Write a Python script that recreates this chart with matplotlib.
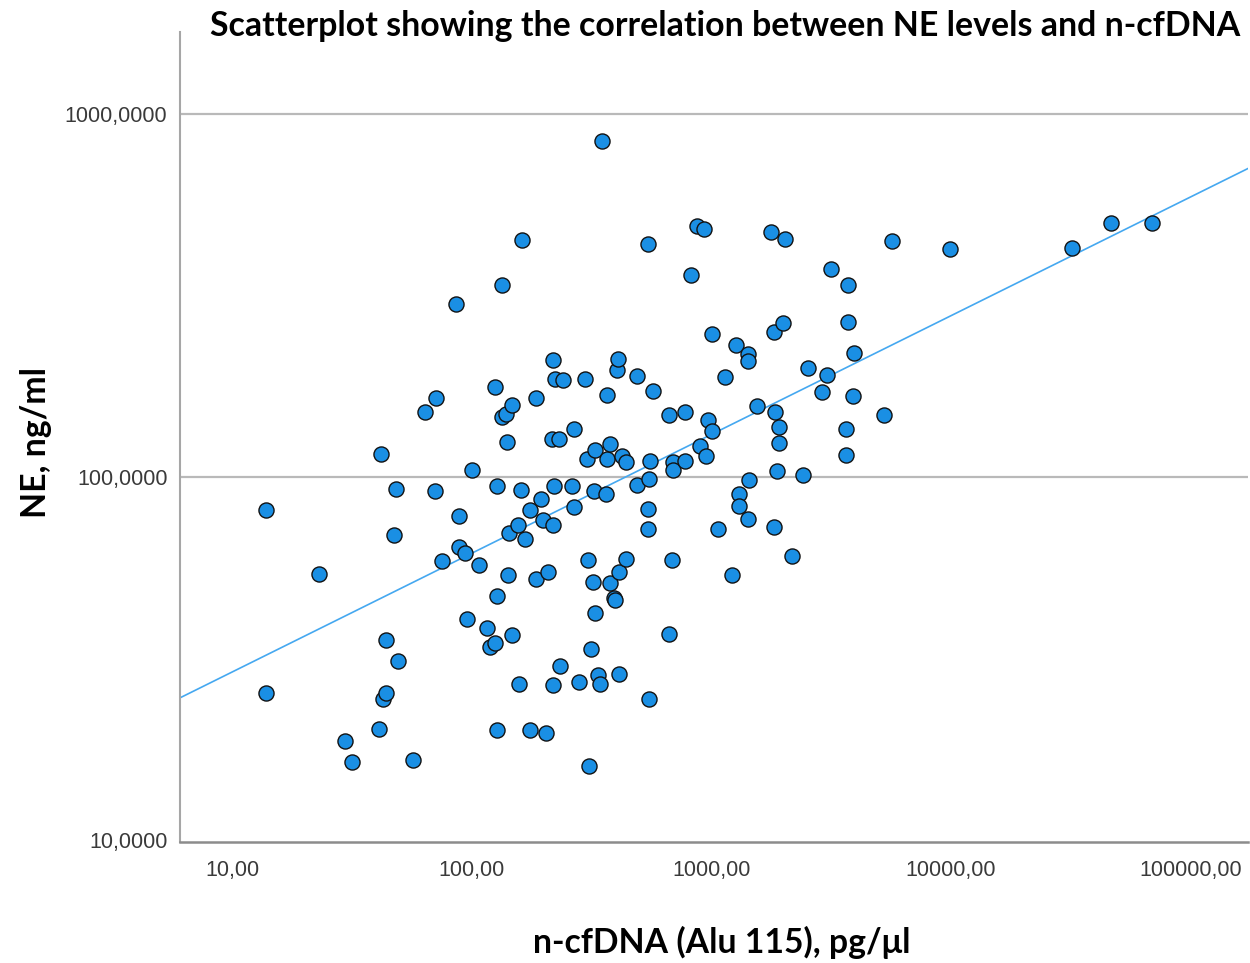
import numpy as np
import matplotlib.pyplot as plt
from matplotlib.ticker import FixedLocator, FixedFormatter, NullLocator

# n-cfDNA (Alu 115), pg/ul  vs  NE, ng/ml
cfdna = [13.9, 13.9, 23.1, 29.6, 31.6, 41.1, 41.9, 42.7, 43.95, 43.95,
         47.5, 48.4, 49.3, 57.0, 64.0, 71.1, 70.4, 75.3, 86.2, 88.7,
         88.7, 94.0, 95.8, 100.5, 107.5, 116.1, 119.5, 125.3, 127.8, 127.8,
         125.3, 127.8, 134.1, 134.1, 139.4, 140.7, 142.1, 143.4, 147.6, 147.6,
         156.4, 157.9, 161.8, 161.0, 167.3, 175.5, 175.5, 185.9, 185.9, 195.1,
         198.9, 204.7, 208.7, 216.8, 218.9, 218.9, 221.0, 223.2, 218.9, 231.9,
         234.2, 241.0, 262.8, 267.9, 267.9, 281.1, 297.8, 303.6, 306.5, 315.5,
         321.6, 326.3, 309.5, 326.3, 324.7, 337.4, 344.0, 350.7, 364.4, 368.0,
         368.0, 378.7, 378.7, 393.6, 397.4, 405.0, 408.9, 412.8, 412.8, 424.9,
         441.6, 441.6, 490.9, 490.9, 545.8, 550.0, 545.8, 545.8, 558.0, 550.0,
         572.8, 667.6, 667.6, 686.0, 690.6, 690.6, 778.7, 778.7, 825.0, 874.0,
         930.0, 900.0, 953.0, 972.0, 1010, 1010, 1070, 1144, 1224, 1272,
         1309, 1309, 1427, 1427, 1441, 1427, 1556, 1780, 1832, 1832,
         1850, 1886, 1923, 1923, 2027, 1990, 2179, 2422, 2541, 2907,
         3050, 3170, 3660, 3660, 3715, 3715, 3897, 3935, 5277, 5697,
         9952, 32160, 46790, 69400]
ne = [81.1, 25.3, 54.0, 18.7, 16.4, 20.2, 115.8, 24.4, 35.4, 25.3,
      69.1, 92.3, 31.0, 16.6, 151.0, 164.4, 91.1, 58.6, 298.5, 78.1,
      63.8, 61.6, 40.4, 104.1, 57.1, 38.2, 33.9, 34.8, 47.0, 94.4,
      176.8, 20.05, 336.4, 146.3, 148.6, 124.5, 53.5, 69.9, 157.8, 36.5,
      73.8, 26.8, 449.7, 91.7, 67.3, 81.1, 20.05, 164.4, 52.3, 86.7,
      75.9, 19.7, 54.7, 127.3, 73.8, 209.6, 94.4, 185.9, 26.6, 127.3,
      30.0, 184.8, 94.4, 82.7, 135.6, 27.2, 185.9, 112.2, 59.0, 33.6,
      51.2, 118.8, 15.9, 42.2, 91.1, 28.4, 26.8, 839.9, 89.4, 112.2,
      168.4, 123.3, 50.9, 46.3, 45.8, 196.8, 211.2, 28.6, 54.7, 113.7,
      110.1, 59.3, 190.0, 94.7, 438.5, 98.3, 81.3, 71.7, 110.8, 24.4,
      172.2, 148.2, 36.9, 59.0, 110.1, 104.1, 110.8, 151.0, 359.0, 491.0,
      482.0, 121.8, 113.7, 143.5, 133.9, 247.0, 71.7, 188.3, 53.5, 230.4,
      89.4, 83.0, 217.7, 208.3, 97.7, 76.4, 156.8, 473.0, 72.6, 250.1,
      151.0, 103.4, 137.4, 124.2, 452.5, 264.8, 60.5, 100.8, 199.3, 171.3,
      190.6, 374.5, 135.6, 115.1, 336.4, 266.5, 167.0, 219.1, 148.2, 446.8,
      424.9, 427.6, 500.6, 500.6]

x_ticks = [10, 100, 1000, 10000, 100000]
x_ticklabels = ['10,00', '100,00', '1000,00', '10000,00', '100000,00']
y_ticks = [10, 100, 1000]
y_ticklabels = ['10,0000', '100,0000', '1000,0000']

x = np.array(cfdna)
y = np.array(ne)

# linear fit in log-log space
slope, icpt = np.polyfit(np.log10(x), np.log10(y), 1)

fig = plt.figure(figsize=(12.5, 9.63), dpi=100)
ax = fig.add_axes([0.144, 0.1256, 0.8544, 0.8412])

ax.set_xscale('log')
ax.set_yscale('log')
ax.set_xlim(6.07, 174000)
ax.set_ylim(10 ** 0.993, 1681)

xl = np.array(ax.get_xlim())
ax.plot(xl, 10 ** (icpt + slope * np.log10(xl)), color='#45a8f0', lw=1.2, zorder=2)
ax.scatter(x, y, s=118, facecolor='#1a8fe4', edgecolor='#121212', linewidth=1.0, zorder=3)

ax.xaxis.set_major_locator(FixedLocator(x_ticks))
ax.xaxis.set_major_formatter(FixedFormatter(x_ticklabels))
ax.yaxis.set_major_locator(FixedLocator(y_ticks))
ax.yaxis.set_major_formatter(FixedFormatter(y_ticklabels))
ax.xaxis.set_minor_locator(NullLocator())
ax.yaxis.set_minor_locator(NullLocator())
ax.tick_params(length=0, labelsize=15.5, labelcolor='#3a3a3a')
ax.tick_params(axis='x', pad=13)
ax.tick_params(axis='y', pad=9)
for lab in ax.get_xticklabels() + ax.get_yticklabels():
    lab.set_family('Liberation Sans')

for gy in y_ticks[1:]:
    ax.axhline(gy, color='#b9b9b9', lw=1.6, zorder=1)

for s in ['top', 'right']:
    ax.spines[s].set_visible(False)
ax.spines['left'].set_color('#a6a6a6')
ax.spines['left'].set_linewidth(1.5)
ax.spines['bottom'].set_color('#8c8c8c')
ax.spines['bottom'].set_linewidth(1.8)

fig.text(0.168, 1 - 36 / 963, 'Scatterplot showing the correlation between NE levels and n-cfDNA',
         fontsize=24.4, fontweight='bold', family=['Lato', 'DejaVu Sans'], ha='left', va='baseline')
fig.text(36 / 1250, 1 - 442 / 963, 'NE, ng/ml', rotation=90, fontsize=24.3,
         fontweight='bold', family=['Lato', 'DejaVu Sans'], ha='center', va='center')
fig.text(722 / 1250, 1 - 942 / 963, 'n-cfDNA (Alu 115), pg/\u03bcl', fontsize=24.3,
         fontweight='bold', family=['Lato', 'DejaVu Sans'], ha='center', va='center')

fig.savefig('out.png', dpi=100)
